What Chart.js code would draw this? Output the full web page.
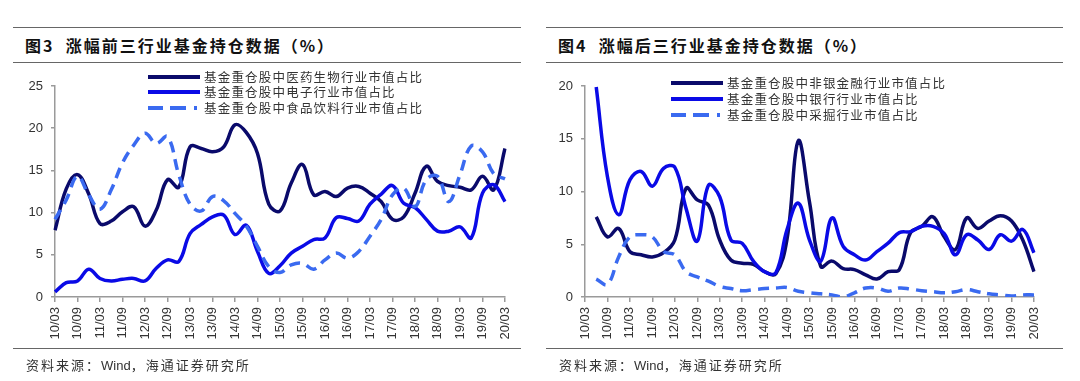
<!DOCTYPE html>
<html>
<head>
<meta charset="utf-8">
<script src="https://cdn.jsdelivr.net/npm/chart.js@4.4.0/dist/chart.umd.min.js"></script>
<style>
  body { margin: 0; background: #fff; font-family: "Noto Sans CJK SC", sans-serif; }
  #page { position: relative; width: 1080px; height: 381px; overflow: hidden; }
  .rule { position: absolute; height: 0; border-top: 1px solid #666; }
  .title { position: absolute; font-size: 16px; font-weight: bold; color: #111; letter-spacing: 2px; line-height: 20px; white-space: nowrap; }
  .src { position: absolute; font-size: 13px; color: #333; letter-spacing: 2px; line-height: 16px; white-space: nowrap; }
  .src .en { font-family: "Liberation Sans", Arial, sans-serif; letter-spacing: 0; }
  .box { position: absolute; top: 70px; height: 280px; }
  .leg { position: absolute; font-size: 12.5px; color: #333; letter-spacing: 1.2px; line-height: 16px; white-space: nowrap; }
  .leg svg { position: absolute; left: 0; top: 0; }
  .leg span { position: absolute; top: 0; }
</style>
</head>
<body>
<div id="page">
  <div class="rule" style="left:13px;top:27px;width:508px"></div>
  <div class="rule" style="left:13px;top:62px;width:508px"></div>
  <div class="title" style="left:25px;top:35px">图3&nbsp;&nbsp;涨幅前三行业基金持仓数据（%）</div>
  <div class="rule" style="left:546px;top:27px;width:517px"></div>
  <div class="rule" style="left:546px;top:62px;width:517px"></div>
  <div class="title" style="left:558px;top:35px">图4&nbsp;&nbsp;涨幅后三行业基金持仓数据（%）</div>

  <div class="box" style="left:0;width:530px"><canvas id="chartTop"></canvas></div>
  <div class="box" style="left:530px;width:540px"><canvas id="chartBottom"></canvas></div>

  <div id="legTop"></div>
  <div id="legBottom"></div>

  <div class="rule" style="left:13px;top:348px;width:508px"></div>
  <div class="src" style="left:26px;top:357px">资料来源：<span class="en">Wind</span>，海通证券研究所</div>
  <div class="rule" style="left:546px;top:348px;width:517px"></div>
  <div class="src" style="left:559px;top:357px">资料来源：<span class="en">Wind</span>，海通证券研究所</div>
</div>

<script>
// quarterly report dates, only every other one is labelled
const quarters = [
  '10/03','10/06','10/09','10/12','11/03','11/06','11/09','11/12',
  '12/03','12/06','12/09','12/12','13/03','13/06','13/09','13/12',
  '14/03','14/06','14/09','14/12','15/03','15/06','15/09','15/12',
  '16/03','16/06','16/09','16/12','17/03','17/06','17/09','17/12',
  '18/03','18/06','18/09','18/12','19/03','19/06','19/09','19/12',
  '20/03'
];

// 图3: top three sectors
const topNames = [
  '基金重仓股中医药生物行业市值占比',
  '基金重仓股中电子行业市值占比',
  '基金重仓股中食品饮料行业市值占比'
];
const pharma = [
  7.9, 12.8, 14.5, 12.2, 8.7, 9.0, 10.1, 10.7, 8.4, 10.3, 13.9, 13.0,
  17.8, 17.6, 17.2, 17.8, 20.4, 19.5, 17.0, 11.0, 10.2, 13.5, 15.7, 12.1,
  12.5, 11.9, 12.9, 13.1, 12.3, 11.3, 9.2, 9.5, 12.3, 15.5, 13.7, 13.2,
  13.0, 12.7, 14.3, 12.7, 17.6
];
const electronics = [
  0.6, 1.7, 1.9, 3.3, 2.2, 1.9, 2.1, 2.2, 1.9, 3.4, 4.4, 4.2,
  7.5, 8.6, 9.5, 9.7, 7.4, 8.5, 5.4, 2.8, 3.7, 5.2, 6.0, 6.8,
  7.0, 9.4, 9.3, 9.0, 11.0, 12.2, 13.2, 11.1, 10.6, 9.2, 7.8, 7.8,
  8.3, 7.0, 12.3, 13.3, 11.3
];
const foodBev = [
  9.2, 11.5, 14.3, 12.1, 10.4, 12.7, 15.9, 18.0, 19.4, 18.2, 19.0, 14.5,
  11.0, 10.2, 11.9, 11.4, 9.9, 8.4, 6.0, 3.6, 2.9, 3.8, 4.0, 3.3,
  4.4, 5.2, 4.6, 5.4, 7.2, 9.2, 12.1, 12.9, 10.7, 13.9, 14.3, 11.3,
  14.5, 17.9, 17.2, 14.6, 14.0
];
const topTicks = [0, 5, 10, 15, 20, 25];

// 图4: bottom three sectors (series start at 10/06)
const bottomNames = [
  '基金重仓股中非银金融行业市值占比',
  '基金重仓股中银行行业市值占比',
  '基金重仓股中采掘行业市值占比'
];
const nonBank = [
  null, 7.6, 5.7, 6.5, 4.3, 4.0, 3.8, 4.2, 5.4, 10.3, 9.2, 8.7,
  5.4, 3.5, 3.2, 3.1, 2.4, 2.2, 5.5, 14.8, 9.0, 2.9, 3.4, 2.7,
  2.6, 2.1, 1.7, 2.4, 2.6, 6.1, 6.7, 7.6, 5.7, 4.5, 7.5, 6.5,
  7.2, 7.7, 7.2, 5.4, 2.4
];
const banks = [
  null, 19.9, 11.4, 7.8, 11.1, 11.9, 10.5, 12.2, 12.3, 8.4, 5.3, 10.6,
  9.5, 5.4, 5.1, 3.4, 2.4, 2.3, 6.4, 8.9, 5.4, 3.4, 7.5, 4.8,
  4.0, 3.5, 4.3, 5.1, 6.1, 6.2, 6.7, 6.7, 6.0, 4.0, 5.9, 5.4,
  4.5, 5.9, 5.3, 6.4, 4.2
];
const mining = [
  null, 1.7, 1.2, 3.8, 5.7, 5.9, 5.7, 4.3, 4.0, 2.4, 1.9, 1.5,
  1.0, 0.8, 0.6, 0.7, 0.8, 0.85, 0.9, 0.55, 0.4, 0.3, 0.2, 0.0,
  0.4, 0.85, 0.85, 0.55, 0.85, 0.75, 0.6, 0.5, 0.4, 0.5, 0.7, 0.5,
  0.3, 0.2, 0.1, 0.2, 0.2
];
const bottomTicks = [0, 5, 10, 15, 20];

const NAVY = '#0a0a6b';
const BLUE = '#0a0ae6';
const LIGHT = '#3a6af0';
const DASH = [11, 7];
const AXIS = '#9a9a9a';
const TICK_FONT = { family: "'Liberation Sans', Arial, sans-serif", size: 13 };

function series(label, data, color, dash, order) {
  return {
    label: label,
    data: data,
    borderColor: color,
    borderWidth: 3.5,
    borderDash: dash || [],
    pointRadius: 0,
    tension: 0.4,
    fill: false,
    order: order
  };
}

function makeChart(id, datasets, ticks, rightPad) {
  const top = ticks[ticks.length - 1];
  return new Chart(document.getElementById(id), {
    type: 'line',
    data: { labels: quarters, datasets: datasets },
    options: {
      responsive: true,
      maintainAspectRatio: false,
      animation: false,
      layout: { padding: { top: 16, right: rightPad, left: 0, bottom: 0 } },
      plugins: { legend: { display: false }, tooltip: { enabled: false } },
      scales: {
        x: {
          offset: false,
          grid: { display: true, drawOnChartArea: false, drawTicks: true, tickLength: 5, color: AXIS, lineWidth: 1.5 },
          border: { display: true, color: AXIS, width: 1.5 },
          ticks: {
            autoSkip: false,
            maxRotation: 90,
            minRotation: 90,
            padding: 5,
            color: '#333',
            font: TICK_FONT,
            callback: (v, i) => (i % 2 === 0 ? quarters[i] : null)
          },
          afterFit: s => { s.height = 53; }
        },
        y: {
          min: 0,
          max: top,
          afterBuildTicks: s => { s.ticks = ticks.map(v => ({ value: v })); },
          grid: { display: true, drawOnChartArea: false, drawTicks: true, tickLength: 4, color: AXIS, lineWidth: 1.5 },
          border: { display: true, color: AXIS, width: 1.5 },
          ticks: { padding: 8, color: '#333', font: TICK_FONT },
          afterFit: s => { s.width = 55; }
        }
      }
    }
  });
}

function makeLegend(holder, left, rows, names, colors, dashes) {
  const el = document.getElementById(holder);
  names.forEach((name, i) => {
    const row = document.createElement('div');
    row.className = 'leg';
    row.style.left = left + 'px';
    row.style.top = (rows[i] - 8) + 'px';
    row.style.width = '300px';
    row.style.height = '16px';
    const dash = dashes[i] ? ' stroke-dasharray="15 7 16 8 3 10"' : '';
    row.innerHTML =
      '<svg width="54" height="16"><line x1="1" y1="8" x2="53" y2="8" stroke="' + colors[i] +
      '" stroke-width="4"' + dash + '/></svg><span style="left:57px">' + name + '</span>';
    el.appendChild(row);
  });
}

makeChart('chartTop', [
  series(topNames[0], pharma, NAVY, null, 3),
  series(topNames[1], electronics, BLUE, null, 2),
  series(topNames[2], foodBev, LIGHT, DASH, 1)
], topTicks, 25);

makeChart('chartBottom', [
  series(bottomNames[0], nonBank, NAVY, null, 3),
  series(bottomNames[1], banks, BLUE, null, 2),
  series(bottomNames[2], mining, LIGHT, DASH, 1)
], bottomTicks, 36);

makeLegend('legTop', 147, [77, 92, 108], topNames, [NAVY, BLUE, LIGHT], [false, false, true]);
makeLegend('legBottom', 670, [83, 99, 115], bottomNames, [NAVY, BLUE, LIGHT], [false, false, true]);
</script>
</body>
</html>
